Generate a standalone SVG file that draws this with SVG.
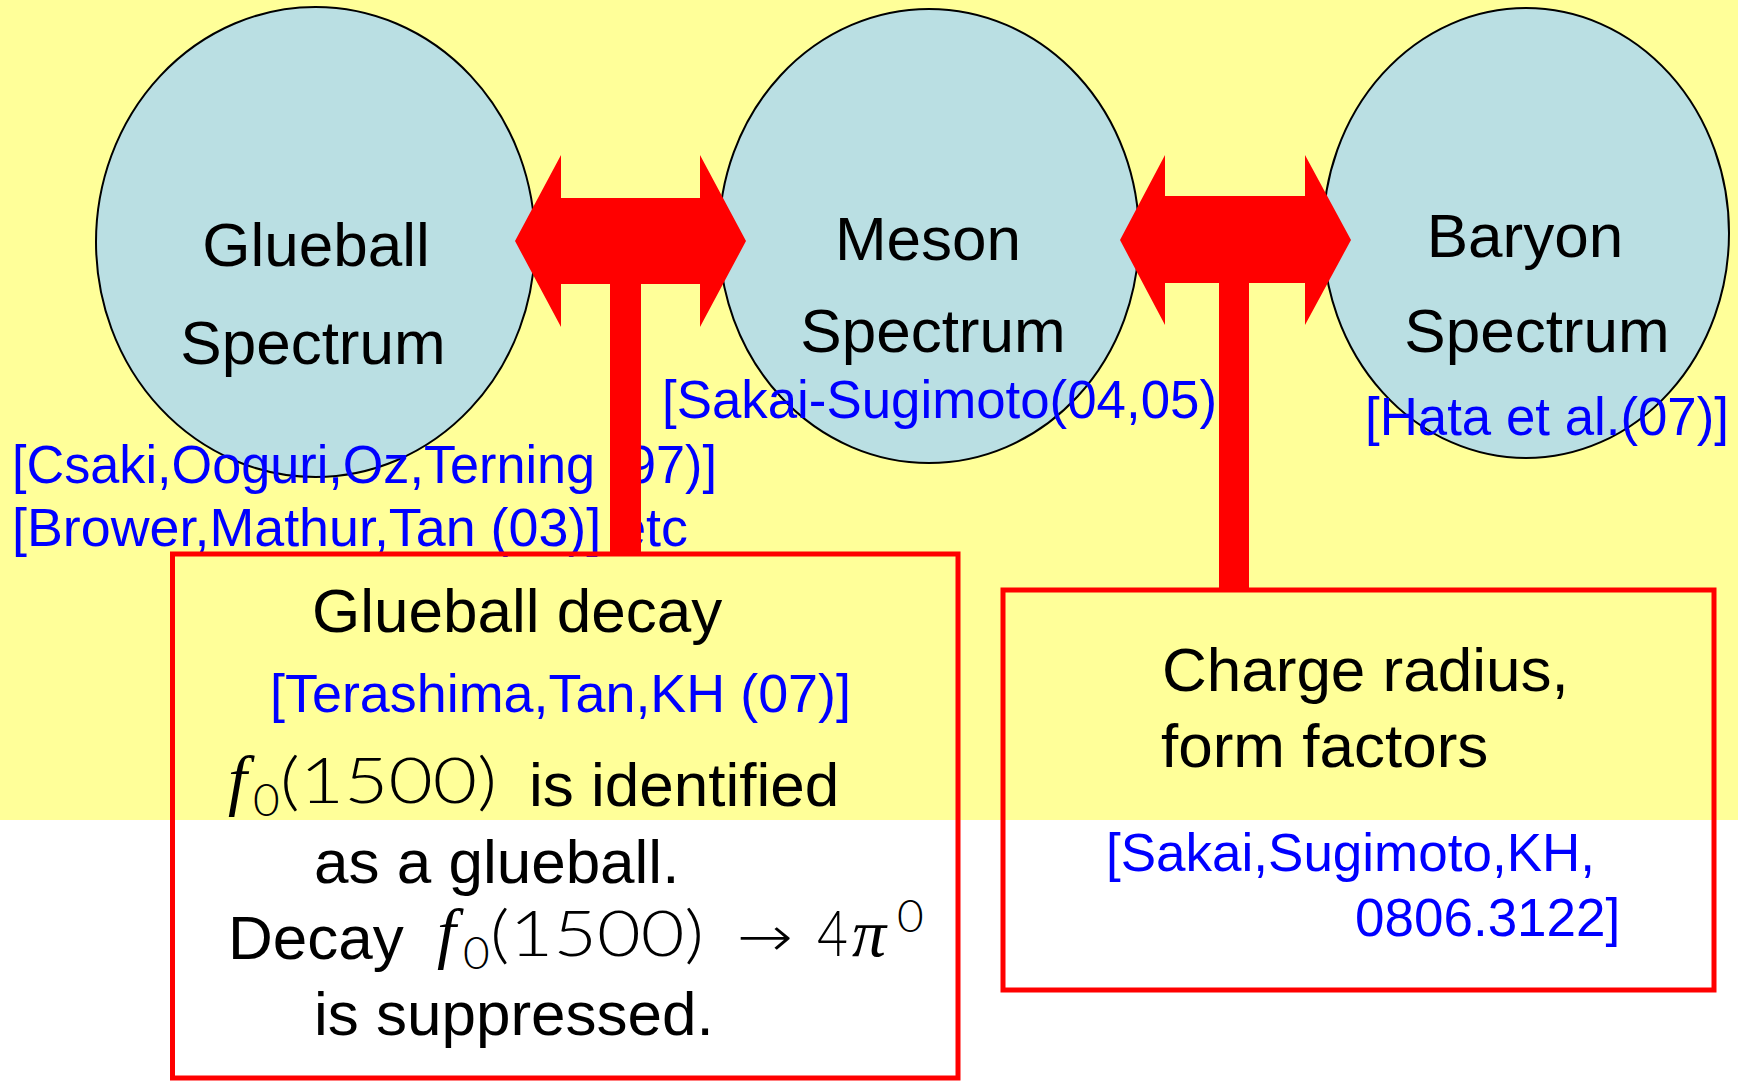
<svg xmlns="http://www.w3.org/2000/svg" width="1738" height="1081" viewBox="0 0 1738 1081">
  <style>
    .bubble { fill: #BADFE3; stroke: #000; stroke-width: 2; }
    .label { font-family: "Liberation Sans", Arial, sans-serif; font-size: 62px; fill: #000; }
    .ref { font-family: "Liberation Sans", Arial, sans-serif; font-size: 53px; fill: #0000FF; }
    .num { font-family: Lato, "DejaVu Sans", sans-serif; font-weight: 300; font-size: 64px; fill: #000; }
    .var { font-family: "Liberation Serif", "DejaVu Serif", serif; font-style: italic; font-size: 68px; fill: #000; }
    .sym { font-family: "DejaVu Sans", sans-serif; font-weight: 200; font-size: 56px; fill: #000; }
    .sub { font-family: Lato, "DejaVu Sans", sans-serif; font-weight: 300; font-size: 46px; fill: #000; }
    .link { fill: #FF0000; }
    .box { fill: none; stroke: #FF0000; stroke-width: 5; }
  </style>

  <!-- background: yellow upper band, white below -->
  <rect x="0" y="0" width="1738" height="1081" fill="#FFFFFF"/>
  <rect x="0" y="0" width="1738" height="820" fill="#FFFF99"/>

  <!-- spectrum bubbles -->
  <g id="glueball-spectrum">
    <ellipse class="bubble" cx="315.5" cy="242" rx="219.5" ry="235"/>
    <text class="label" x="316" y="266" text-anchor="middle">Glueball</text>
    <text class="label" x="313" y="364" text-anchor="middle">Spectrum</text>
  </g>
  <g id="meson-spectrum">
    <ellipse class="bubble" cx="929" cy="236" rx="210" ry="227"/>
    <text class="label" x="928" y="260" text-anchor="middle">Meson</text>
    <text class="label" x="933" y="352" text-anchor="middle">Spectrum</text>
  </g>
  <g id="baryon-spectrum">
    <ellipse class="bubble" cx="1526" cy="233" rx="203" ry="225"/>
    <text class="label" x="1525" y="257" text-anchor="middle">Baryon</text>
    <text class="label" x="1537" y="352" text-anchor="middle">Spectrum</text>
  </g>

  <!-- references -->
  <g id="references">
    <text class="ref" x="662" y="418" textLength="555" lengthAdjust="spacingAndGlyphs">[Sakai-Sugimoto(04,05)</text>
    <text class="ref" x="1365" y="435" textLength="364" lengthAdjust="spacingAndGlyphs">[Hata et al.(07)]</text>
    <text class="ref" x="12" y="483" textLength="705" lengthAdjust="spacingAndGlyphs">[Csaki,Ooguri,Oz,Terning (97)]</text>
    <text class="ref" x="12" y="546" textLength="676" lengthAdjust="spacingAndGlyphs">[Brower,Mathur,Tan (03)] etc</text>
  </g>

  <!-- double arrows with stems down to the boxes -->
  <g id="connectors">
    <polygon class="link" points="515,241 561,155 561,198 700,198 700,155 746,241 700,327 700,284 561,284 561,327"/>
    <rect class="link" x="610" y="283" width="31" height="272"/>
    <polygon class="link" points="1120,240 1165,155 1165,196 1305,196 1305,155 1351,240 1305,325 1305,283 1165,283 1165,325"/>
    <rect class="link" x="1219" y="282" width="30" height="309"/>
  </g>

  <!-- glueball decay box -->
  <g id="glueball-decay">
    <rect class="box" x="172.5" y="554" width="785.5" height="524"/>
    <text class="label" x="312" y="632">Glueball decay</text>
    <text class="ref" x="270" y="712" textLength="581" lengthAdjust="spacingAndGlyphs">[Terashima,Tan,KH (07)]</text>
    <text class="var" x="228" y="803">f</text>
    <text class="sub" x="253" y="816">0</text>
    <text class="num" x="280" y="803" textLength="217" lengthAdjust="spacingAndGlyphs">(1500)</text>
    <text class="label" x="529" y="806">is identified</text>
    <text class="label" x="314" y="883">as a glueball.</text>
    <text class="label" x="228" y="959">Decay</text>
    <text class="var" x="437" y="956">f</text>
    <text class="sub" x="463" y="969">0</text>
    <text class="num" x="490" y="956" textLength="214" lengthAdjust="spacingAndGlyphs">(1500)</text>
    <text class="sym" x="737" y="956" textLength="56" lengthAdjust="spacingAndGlyphs">→</text>
    <text class="num" x="817" y="956" textLength="31" lengthAdjust="spacingAndGlyphs">4</text>
    <text class="var" x="852" y="956">π</text>
    <text class="sub" x="897" y="932">0</text>
    <text class="label" x="314" y="1035">is suppressed.</text>
  </g>

  <!-- charge radius box -->
  <g id="charge-radius">
    <rect class="box" x="1003" y="590" width="711" height="400"/>
    <text class="label" x="1162" y="691">Charge radius,</text>
    <text class="label" x="1161" y="767">form factors</text>
    <text class="ref" x="1106" y="871">[Sakai,Sugimoto,KH,</text>
    <text class="ref" x="1355" y="936">0806.3122]</text>
  </g>
</svg>
